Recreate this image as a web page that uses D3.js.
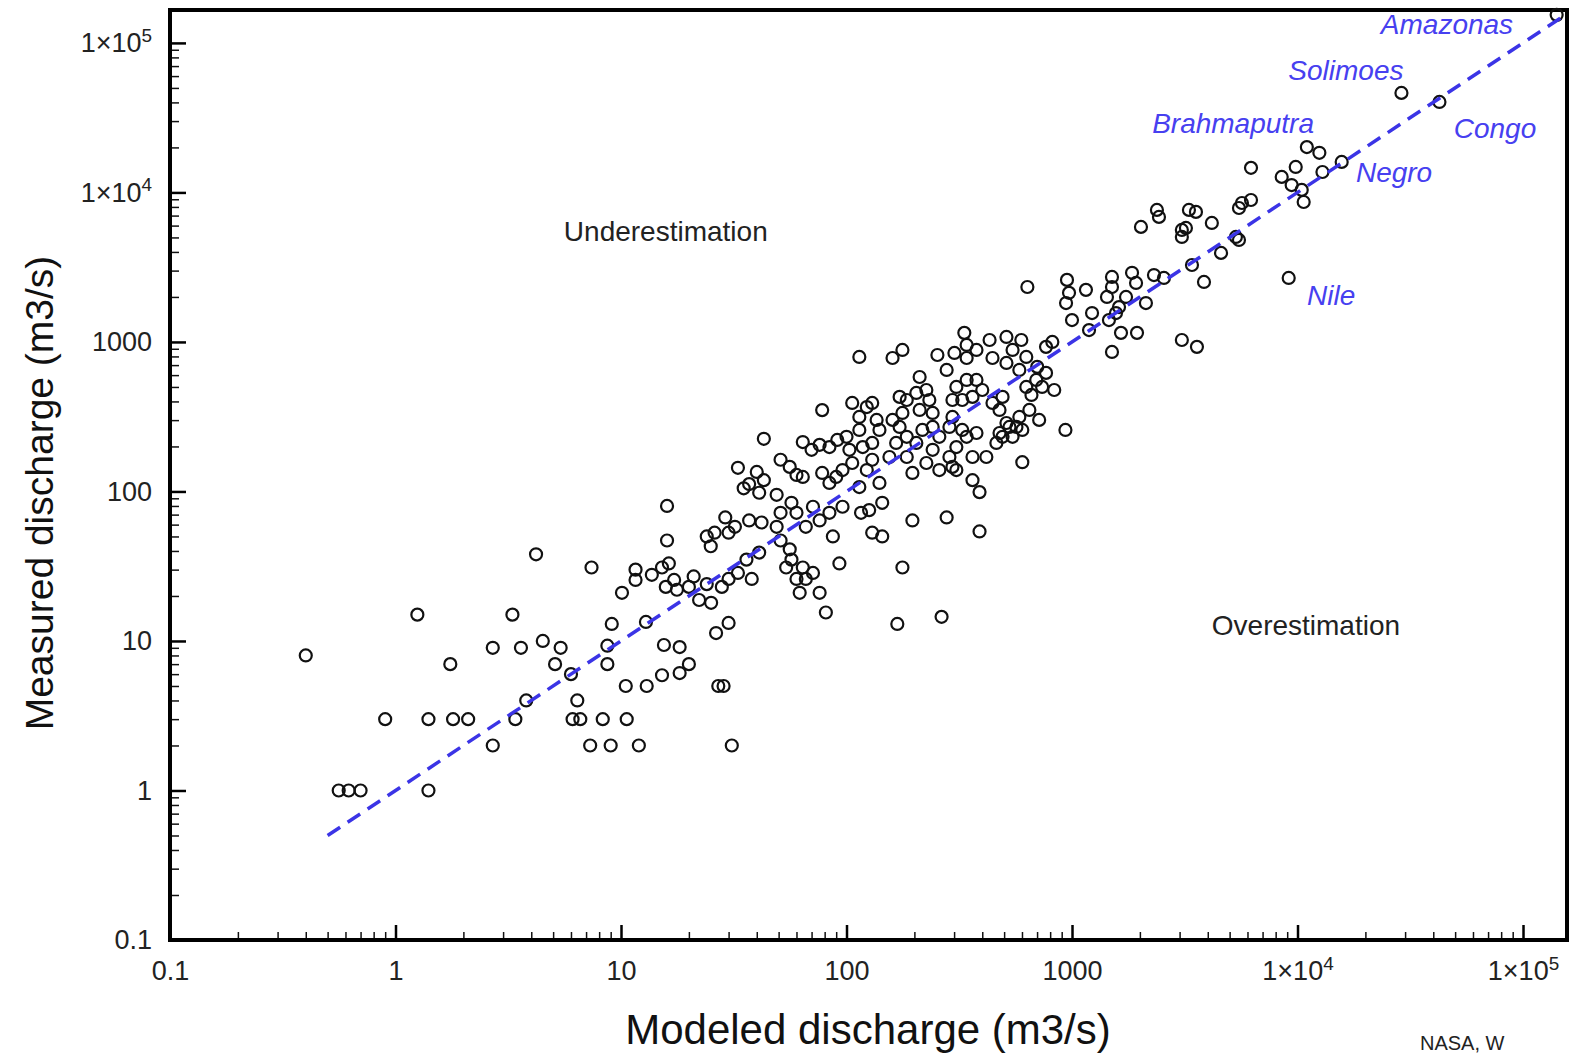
<!DOCTYPE html>
<html>
<head>
<meta charset="utf-8">
<script src="https://cdn.jsdelivr.net/npm/d3@7"></script>
<style>
  html, body { margin: 0; padding: 0; background: #fff; overflow: hidden; }
  svg text { font-family: "Liberation Sans", Arial, Helvetica, sans-serif; }
</style>
</head>
<body>
<svg id="chart"></svg>
<script>
const W = 1571, H = 1053;

// axis ticks
const majorTicks = [0.1, 1, 10, 100, 1000, 1e4, 1e5];
const tickLabels = ["0.1", "1", "10", "100", "1000", "1×10^4", "1×10^5"];

// stations: [modeled, measured] discharge (m3/s)
const stations = [
  // small rivers
  [0.4, 8], [0.56, 1], [0.62, 1], [0.7, 1], [1.4, 1], [0.9, 3], [1.4, 3], [1.8, 3], [2.1, 3],
  [1.25, 15], [1.75, 7], [2.7, 9], [2.7, 2], [3.3, 15], [3.6, 9], [3.4, 3], [3.8, 4], [4.2, 38],
  [4.5, 10], [5.4, 9], [5.1, 7], [6, 6], [6.4, 4], [6.1, 3], [6.6, 3], [7.3, 2], [8.3, 3], [9, 2],
  [12, 2], [10.6, 3], [10.5, 5], [13, 5], [9.1, 13], [8.7, 9.3], [8.7, 7], [31, 2], [27, 5], [28.5, 5],
  [15.5, 9.4], [18.2, 9.1], [20, 7], [18.2, 6.1], [15.2, 5.9],
  [16, 80], [7.4, 31], [10.1, 21], [11.6, 30], [11.6, 25.6], [13.7, 27.7], [15.2, 31], [16.3, 33],
  [15.8, 23], [17.2, 25.6], [17.7, 22], [22.2, 18.8], [25.1, 18], [16, 47], [81, 15.5], [30, 13.2],
  [26.4, 11.3], [12.9, 13.4], [62, 21], [76, 21],
  // 20 - 150
  [78, 350], [43, 225], [33, 144], [40, 135], [43, 119], [35, 105], [41, 98], [49, 95], [37, 112],
  [51, 163], [56, 146], [60, 129], [64, 125], [64, 214], [70, 190], [76, 205], [84, 198], [91, 221],
  [78, 133], [84, 114], [90, 125], [126, 75], [116, 72], [144, 84],
  [96, 79], [84, 72], [76, 64], [71, 79], [66, 58], [60, 72], [57, 84],
  [51, 72], [49, 58], [42, 62], [37, 64], [32, 58], [29, 67], [30, 53], [26, 53], [24, 50], [25, 43],
  [51, 47], [56, 41], [57, 35], [64, 31], [71, 28.5], [54, 31], [66, 26], [60, 26],
  [41, 39], [36, 35], [33, 28.5], [38, 26], [30, 26], [28, 23], [21, 27], [24, 24], [20, 23],
  [87, 50], [130, 53], [144, 50], [93, 33], [196, 64], [278, 67], [177, 31],
  // 100 - 1000
  [634, 2330], [114, 794], [160, 781], [177, 884],
  [253, 818], [278, 650], [301, 844], [333, 1150], [341, 955], [341, 781], [377, 884], [431, 1030],
  [512, 1080], [545, 884], [596, 1030], [627, 794], [584, 650], [512, 724], [444, 781],
  [701, 681], [767, 621], [834, 477], [737, 500], [661, 442], [767, 927], [818, 1000],
  [211, 583], [226, 477], [204, 456], [233, 409], [241, 335], [211, 351], [185, 409], [172, 429], [177, 335],
  [307, 500], [341, 557], [377, 557], [400, 477], [362, 429], [326, 409], [295, 409],
  [444, 391], [492, 429], [477, 351], [512, 287], [584, 315], [602, 258], [545, 232], [477, 246],
  [647, 351], [715, 301], [627, 500], [694, 557], [935, 258],
  [106, 391], [114, 315], [123, 367], [130, 391], [136, 301], [100, 232], [114, 258], [103, 190],
  [118, 198], [130, 211], [140, 258], [96, 139], [106, 155], [123, 139], [130, 163], [140, 114], [114, 107],
  [160, 301], [172, 270], [185, 232], [166, 211], [155, 170], [185, 170], [204, 211], [217, 258],
  [241, 270], [258, 232], [241, 190], [226, 155], [258, 139], [286, 170], [307, 198], [341, 232],
  [326, 258], [286, 270], [295, 315],
  [377, 246], [362, 170], [307, 139], [362, 119], [417, 170], [462, 211], [492, 232], [528, 270], [567, 270],
  [196, 133], [295, 146], [389, 99], [602, 157], [389, 54], [168, 13], [264, 14.5],
  // large rivers
  [6220, 14600], [8510, 12700], [9820, 14800], [9420, 11200], [10440, 10400], [10650, 8630],
  [5670, 8500], [6220, 8900], [5500, 7870], [4170, 6250], [3545, 7410], [3300, 7640],
  [2380, 7640], [2430, 6860], [2022, 5880], [3070, 5610], [3070, 5040], [3200, 5790],
  [5330, 5040], [5500, 4810], [4580, 3940], [3404, 3270], [3848, 2520], [9140, 2680],
  [1504, 2720], [1504, 2330], [1846, 2900], [1923, 2480], [2309, 2800], [2556, 2680],
  [950, 2600], [970, 2130], [941, 1820], [1153, 2230], [1429, 2000], [1736, 2000], [1616, 1710], [2127, 1820],
  [1000, 1400], [1227, 1560], [1190, 1200], [1458, 1400], [1567, 1560],
  [1649, 1150], [1942, 1150], [1504, 857], [3070, 1030], [3581, 927],
  [28900, 46300], [42600, 40300], [15700, 16000], [12900, 13700], [11000, 20100], [12500, 18400],
  [141000, 154000]
];

// 1:1 line
const oneToOne = [0.5, 155000];

// annotations
const riverNames = ["Amazonas", "Solimoes", "Brahmaputra", "Congo", "Negro", "Nile"];
const riverX = [46000, 16400, 5180, 75100, 26800, 14100];
const riverY = [115000, 56600, 25000, 23200, 11800, 1770];
const regionNames = ["Underestimation", "Overestimation"];
const regionX = [15.8, 10900];
const regionY = [4740, 11];

const svg = d3.select("#chart").attr("width", W).attr("height", H);

var x = d3.scaleLog().domain([0.1, 156700]).range([170, 1567]);
var y = d3.scaleLog().domain([0.1, 166000]).range([940, 10]);

const isMajor = (v) => Math.abs(Math.log10(v) - Math.round(Math.log10(v))) < 1e-6;
const minorX = x.ticks().filter((v) => !isMajor(v));
const minorY = y.ticks().filter((v) => !isMajor(v));

// split "1×10^4" into base + superscript
function supLabels(sel) {
  sel.selectAll(".tick text").each(function (d) {
    const lab = tickLabels[majorTicks.indexOf(d)];
    const parts = lab.split("^");
    const t = d3.select(this).text(parts[0]);
    if (parts[1]) {
      t.append("tspan").attr("dy", "-0.55em").attr("font-size", "0.7em").text(parts[1]);
    }
  });
}

// minor ticks
svg.append("g")
  .attr("transform", "translate(0," + y.range()[0] + ")")
  .call(d3.axisBottom(x).tickValues(minorX).tickSize(-8).tickSizeOuter(0).tickFormat(""))
  .call((g) => g.select(".domain").remove())
  .selectAll("line").attr("stroke", "#111").attr("stroke-width", 1.5);

svg.append("g")
  .attr("transform", "translate(" + x.range()[0] + ",0)")
  .call(d3.axisLeft(y).tickValues(minorY).tickSize(-9).tickSizeOuter(0).tickFormat(""))
  .call((g) => g.select(".domain").remove())
  .selectAll("line").attr("stroke", "#111").attr("stroke-width", 1.5);

// major ticks + labels
const xAxis = svg.append("g")
  .attr("transform", "translate(0," + y.range()[0] + ")")
  .call(d3.axisBottom(x).tickValues(majorTicks).tickSize(-15).tickSizeOuter(0).tickPadding(21))
  .call(supLabels);
xAxis.selectAll(".tick line").attr("stroke", "#000").attr("stroke-width", 2.5);
xAxis.selectAll("text").attr("font-size", 27).attr("fill", "#222");

const yAxis = svg.append("g")
  .attr("transform", "translate(" + x.range()[0] + ",0)")
  .call(d3.axisLeft(y).tickValues(majorTicks).tickSize(-16).tickSizeOuter(0).tickPadding(18))
  .call(supLabels);
yAxis.selectAll(".tick line").attr("stroke", "#000").attr("stroke-width", 2.5);
yAxis.selectAll("text").attr("font-size", 27).attr("fill", "#222");

// frame
svg.append("rect")
  .attr("x", x.range()[0])
  .attr("y", y.range()[1])
  .attr("width", x.range()[1] - x.range()[0])
  .attr("height", y.range()[0] - y.range()[1])
  .attr("fill", "none")
  .attr("stroke", "#000")
  .attr("stroke-width", 4);

// points
svg.append("g")
  .selectAll("circle")
  .data(stations)
  .enter()
  .append("circle")
  .attr("cx", (d) => x(d[0]))
  .attr("cy", (d) => y(d[1]))
  .attr("r", 6)
  .attr("fill", "none")
  .attr("stroke", "#111")
  .attr("stroke-width", 2.2);

// 1:1 dashed line
svg.append("line")
  .attr("x1", x(oneToOne[0]))
  .attr("y1", y(oneToOne[0]))
  .attr("x2", x(oneToOne[1]))
  .attr("y2", y(oneToOne[1]))
  .attr("stroke", "#3b34e6")
  .attr("stroke-width", 3.5)
  .attr("stroke-dasharray", "15,9");

// river names
svg.append("g")
  .selectAll("text")
  .data(riverNames)
  .enter()
  .append("text")
  .attr("x", (d, i) => x(riverX[i]))
  .attr("y", (d, i) => y(riverY[i]))
  .attr("text-anchor", "middle")
  .attr("font-size", 28)
  .attr("font-style", "italic")
  .attr("fill", "#4740f0")
  .text((d) => d);

// region names
svg.append("g")
  .selectAll("text")
  .data(regionNames)
  .enter()
  .append("text")
  .attr("x", (d, i) => x(regionX[i]))
  .attr("y", (d, i) => y(regionY[i]))
  .attr("text-anchor", "middle")
  .attr("font-size", 28)
  .attr("fill", "#222")
  .text((d) => d);

// axis titles
svg.append("text")
  .attr("x", 868)
  .attr("y", 1044)
  .attr("text-anchor", "middle")
  .attr("font-size", 42)
  .attr("fill", "#111")
  .text("Modeled discharge (m3/s)");

svg.append("text")
  .attr("transform", "translate(53,493) rotate(-90)")
  .attr("text-anchor", "middle")
  .attr("font-size", 39)
  .attr("fill", "#111")
  .text("Measured discharge (m3/s)");

// credit at the bottom right
svg.append("text")
  .attr("x", 1420)
  .attr("y", 1050)
  .attr("font-size", 20)
  .attr("fill", "#222")
  .text("NASA, W");
</script>
</body>
</html>
